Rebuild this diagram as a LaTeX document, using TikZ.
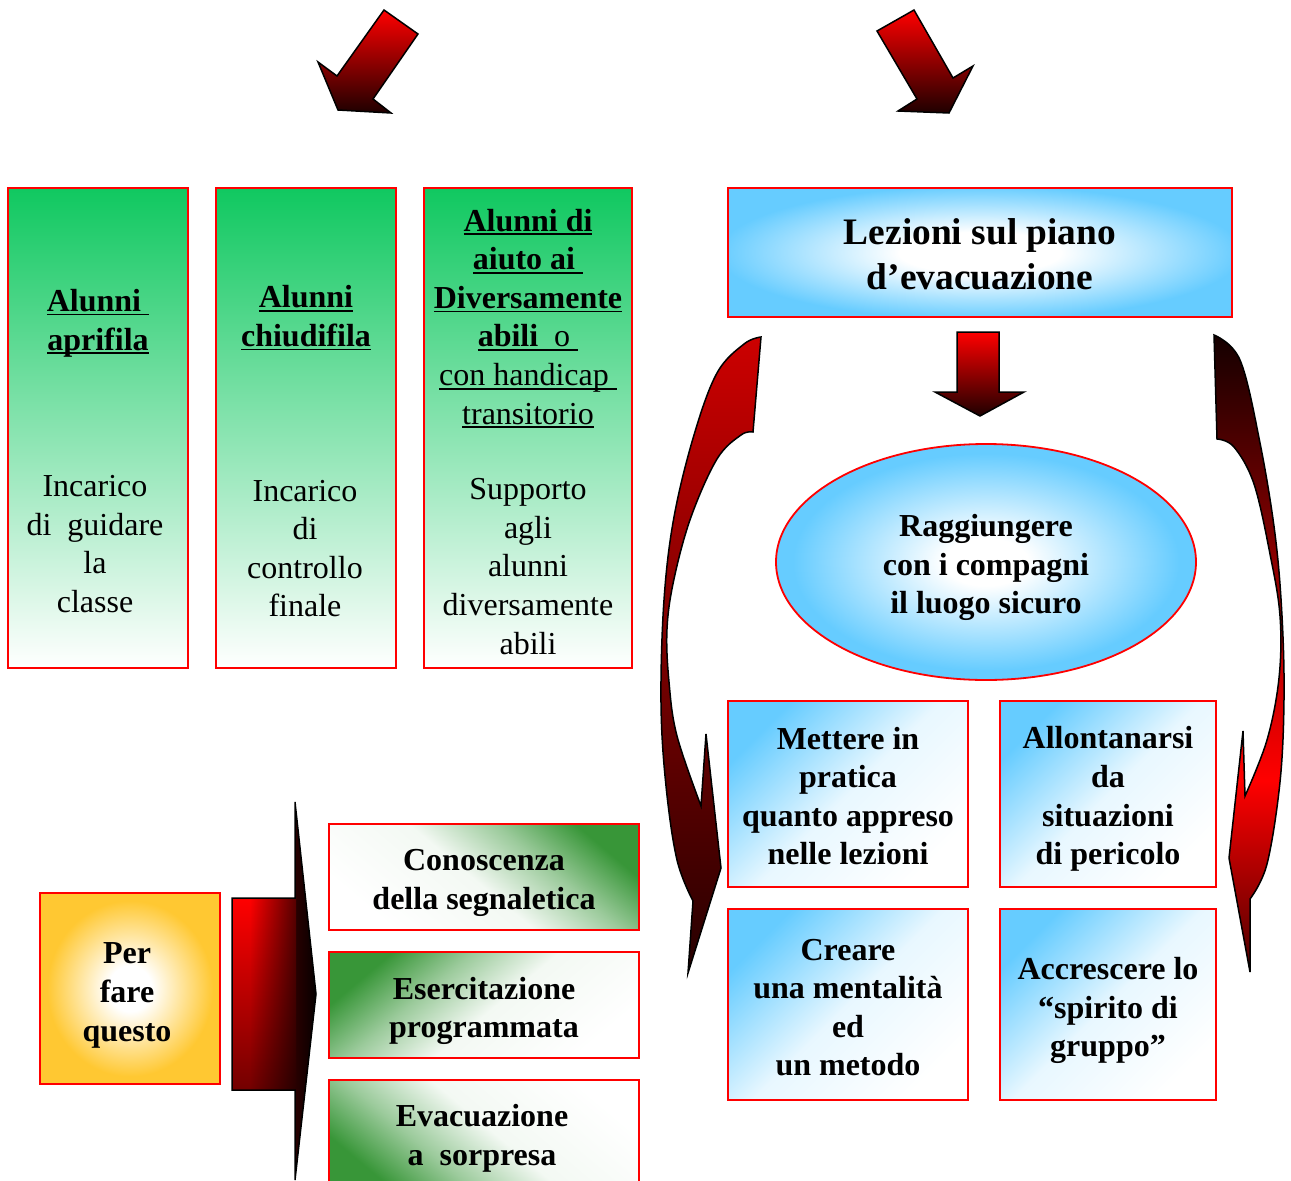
\documentclass[tikz,border=0pt]{standalone}
\usepackage{fontspec}
\setmainfont{Liberation Serif}
\usetikzlibrary{fadings,shapes.geometric}
\definecolor{topgreen}{RGB}{16,200,96}
\definecolor{midgreen}{RGB}{56,150,56}
\definecolor{skyb}{RGB}{102,204,255}
\definecolor{goldc}{RGB}{255,200,50}
\colorlet{rdark}{red!30!black}
\colorlet{rblack}{red!8!black}
\colorlet{gpale}{white!94!midgreen}
\colorlet{gmid}{white!50!midgreen}
\pgfdeclareradialshading{bluerad}{\pgfpoint{0bp}{0bp}}{color(0bp)=(white); color(5bp)=(white); color(23bp)=(skyb); color(50bp)=(skyb)}
\pgfdeclareradialshading{bluerect}{\pgfpoint{0bp}{0bp}}{color(0bp)=(white); color(8bp)=(white); color(26bp)=(skyb); color(50bp)=(skyb)}
\pgfdeclareradialshading{goldrad}{\pgfpoint{0bp}{0bp}}{color(0bp)=(white); color(6bp)=(white); color(23bp)=(goldc); color(50bp)=(goldc)}
\pgfdeclareverticalshading{rightarr}{100bp}{color(0bp)=(rdark); color(25bp)=(rdark); color(40bp)=(red); color(75bp)=(rblack); color(100bp)=(rblack)}
\pgfdeclareverticalshading{greencorner}{100bp}{color(0bp)=(white); color(25bp)=(white); color(48bp)=(gpale); color(62bp)=(gmid); color(75bp)=(midgreen); color(100bp)=(midgreen)}
\tikzfading[name=darkright, left color=transparent!100, right color=transparent!0]
\newcommand\myul[1]{\setbox0=\hbox{#1}\rlap{\rule[-4pt]{\wd0}{1.8pt}}\box0}
\begin{document}
\begin{tikzpicture}[x=1pt,y=-1pt,
  redbox/.style={draw=red, line width=1.8pt, inner sep=0pt, outer sep=0pt},
  rt/.style={font=\fontsize{32}{38.6}\selectfont, align=center, inner sep=0pt},
  bt/.style={font=\fontsize{32}{38.6}\selectfont\bfseries, align=center, inner sep=0pt},
  bluebox/.style={redbox, top color=skyb, bottom color=white, middle color=white!85!skyb},
  greenbox/.style={redbox, shading=greencorner, minimum width=310pt},
  arrowline/.style={draw=black, line width=1.5pt}]
\clip (0,0) rectangle (1291,1181);

% top arrows
\shade[top color=red, bottom color=red!12!black, arrowline]
  (384,10) -- (418,34) -- (373,99) -- (391,113) -- (338,110) -- (318,62) -- (337,76) -- cycle;
\shade[top color=red, bottom color=red!12!black, arrowline]
  (877,31) -- (914,10) -- (953,78) -- (973,66) -- (949,113) -- (898,111) -- (917,99) -- cycle;

% green boxes
\node[redbox, top color=topgreen, bottom color=white, minimum width=180pt, minimum height=480pt] (g1) at (98,428) {};
\node[redbox, top color=topgreen, bottom color=white, minimum width=180pt, minimum height=480pt] (g2) at (306,428) {};
\node[redbox, top color=topgreen, bottom color=white, minimum width=208pt, minimum height=480pt] (g3) at (528,428) {};

\node[bt] (g1h) at (98,323) {\myul{Alunni\ }\\\myul{aprifila}};
\node[rt] (g1b) at (95,544) {Incarico\\di\ \ guidare\\la\\classe};
\node[bt] (g2h) at (306,318) {\myul{Alunni}\\\myul{chiudifila}};
\node[rt] (g2b) at (305,548.5) {Incarico\\di\\controllo\\finale};
\node[bt] (g3h) at (528,318.5) {\myul{Alunni di}\\\myul{aiuto ai\ }\\\myul{Diversamente}\\\myul{abili\ \ \mdseries o\ }\\\myul{\mdseries con handicap\ }\\\myul{\mdseries transitorio}};
\node[rt] (g3b) at (528,566.5) {Supporto\\agli\\alunni\\diversamente\\abili};

% lezioni
\node[redbox, shading=bluerect, minimum width=504pt, minimum height=129pt] (lez) at (980,252.5) {};
\node[font=\fontsize{37.4}{45}\selectfont\bfseries, align=center, inner sep=0pt] (lezt) at (980,254.5) {Lezioni sul piano\\d’evacuazione};

\shade[top color=red, bottom color=red!12!black, arrowline]
  (957,332) -- (999,332) -- (999,392) -- (1024,392) -- (980,416) -- (935,392) -- (957,392) -- cycle;

\node[draw=red, line width=1.8pt, ellipse, shading=bluerad, minimum width=420pt, minimum height=236pt, inner sep=0pt] (ell) at (986,562) {};
\node[bt] (ellt) at (986,567.5) {Raggiungere\\con i compagni\\il luogo sicuro};

% curved arrows
\shade[top color=red!80!black, bottom color=red!15!black, arrowline]
  (761,337) -- (753,432)
  -- plot[smooth, tension=0.6] coordinates {(753,432) (741,435) (717,459) (691,517) (674,579) (667,629) (669,682) (677,736) (701,806)}
  -- (706,734) -- (721,868) -- (688,973) -- (693,901)
  -- plot[smooth, tension=0.6] coordinates {(693,901) (677,860) (666,786) (661,703) (664,600) (674,517) (694,435) (717,373) (744,344) (761,337)}
  -- cycle;
\shade[shading=rightarr, arrowline]
  (1214,335) -- (1217,439)
  -- plot[smooth, tension=0.6] coordinates {(1217,439) (1234,447) (1254,484) (1270,554) (1280,616) (1279,678) (1267,740) (1245,796)}
  -- (1243,731) -- (1229,858) -- (1250,972) -- (1250,899)
  -- plot[smooth, tension=0.6] coordinates {(1250,899) (1267,864) (1280,782) (1284,699) (1282,616) (1275,534) (1260,443) (1240,360) (1214,335)}
  -- cycle;

% blue boxes
\node[bluebox, shading angle=45, minimum width=240pt, minimum height=186pt] (b1) at (848,794) {};
\node[bluebox, shading angle=45, minimum width=216pt, minimum height=186pt] (b2) at (1108,794) {};
\node[bluebox, shading angle=45, minimum width=240pt, minimum height=191pt] (b3) at (848,1004.5) {};
\node[bluebox, shading angle=45, minimum width=216pt, minimum height=191pt] (b4) at (1108,1004.5) {};
\node[bt] (b1t) at (848,796) {Mettere in\\pratica\\quanto appreso\\nelle lezioni};
\node[bt] (b2t) at (1108,799) {Allontanarsi\\da\\situazioni\\di pericolo};
\node[bt] (b3t) at (848,1007.5) {Creare\\una mentalità\\ed\\un metodo};
\node[bt] (b4t) at (1108,1010.5) {Accrescere lo\\“spirito di\\gruppo”};

% per fare questo
\node[redbox, shading=goldrad, minimum width=180pt, minimum height=191pt] (per) at (130,988.5) {};
\node[bt] (pert) at (127,995.5) {Per\\fare\\questo};

% big arrow
\begin{scope}
  \clip (232,898) -- (295,898) -- (295,802) -- (316,994) -- (295,1180) -- (295,1090) -- (232,1090) -- cycle;
  \fill[red!45!black] (230,800) rectangle (320,1182);
  \shade[top color=red, bottom color=red!45!black] (230,898) rectangle (296,1090);
  \fill[black, path fading=darkright] (250,800) rectangle (320,1182);
\end{scope}
\draw[arrowline] (232,898) -- (295,898) -- (295,802) -- (316,994) -- (295,1180) -- (295,1090) -- (232,1090) -- cycle;

% green bottom boxes
\node[greenbox, shading angle=-40, minimum height=106pt] (c1) at (484,877) {};
\node[greenbox, shading angle=40, minimum height=106pt] (c2) at (484,1005) {};
\node[greenbox, shading angle=140, minimum height=110pt] (c3) at (484,1135) {};
\node[bt] (c1t) at (484,883) {Conoscenza\\della segnaletica};
\node[bt] (c2t) at (484,1011) {Esercitazione\\programmata};
\node[bt] (c3t) at (482,1138) {Evacuazione\\a\ \ sorpresa};
\end{tikzpicture}
\end{document}
